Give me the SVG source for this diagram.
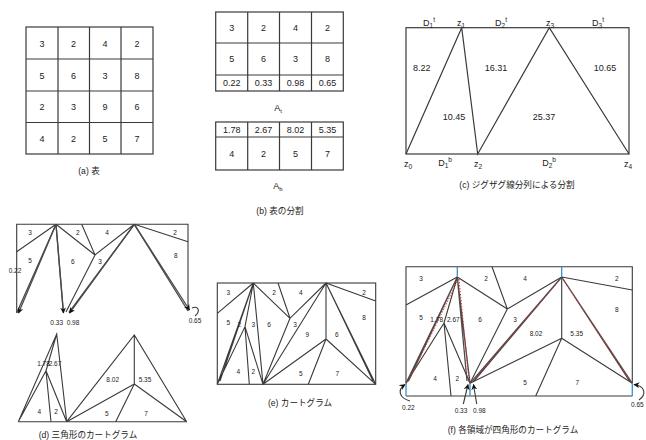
<svg xmlns="http://www.w3.org/2000/svg" width="646" height="440" viewBox="0 0 646 440">
<defs>
<style>
.g{stroke:#3a3a3a;stroke-width:1.1;fill:none}
.tb{stroke:#3a3a3a;stroke-width:1.2;fill:none}
.zz{stroke:#4a4a4a;stroke-width:1.3;fill:none}
.rd{stroke:#e03030;stroke-width:1;stroke-dasharray:1.5 1.5;fill:none}
.bl{stroke:#3a8fd0;stroke-width:1.3;fill:none}
text{font-family:"Liberation Sans","Noto Sans CJK JP",sans-serif;fill:#222;text-anchor:middle}
.n9{font-size:9px}
.n6{font-size:6.5px}
.cap{font-size:8.6px}
</style>
<marker id="ah" viewBox="0 0 10 10" refX="9" refY="5" markerWidth="6" markerHeight="6" markerUnits="userSpaceOnUse" orient="auto"><path d="M0,0 L10,5 L0,10 L3,5 z" fill="#111"/></marker>
</defs>

<!-- (a) table -->
<g id="table-a">
<rect class="tb" x="26" y="27" width="127" height="127"/>
<path class="tb" d="M58 27V154M89.5 27V154M121 27V154M26 59H153M26 91H153M26 122.5H153"/>
<g class="n9">
<text x="42" y="46.5">3</text><text x="73.5" y="46.5">2</text><text x="105" y="46.5">4</text><text x="137" y="46.5">2</text>
<text x="42" y="78.5">5</text><text x="73.5" y="78.5">6</text><text x="105" y="78.5">3</text><text x="137" y="78.5">8</text>
<text x="42" y="110">2</text><text x="73.5" y="110">3</text><text x="105" y="110">9</text><text x="137" y="110">6</text>
<text x="42" y="141.5">4</text><text x="73.5" y="141.5">2</text><text x="105" y="141.5">5</text><text x="137" y="141.5">7</text>
</g>
<text class="cap" x="89" y="174">(a) 表</text>
</g>

<!-- (b) split tables -->
<g id="table-at">
<rect class="tb" x="215.7" y="12" width="127.6" height="79"/>
<path class="tb" d="M247.7 12V91M279.5 12V91M311.5 12V91M215.7 43H343.3M215.7 75H343.3"/>
<g class="n9">
<text x="231.7" y="30.5">3</text><text x="263.6" y="30.5">2</text><text x="295.5" y="30.5">4</text><text x="327.4" y="30.5">2</text>
<text x="231.7" y="62">5</text><text x="263.6" y="62">6</text><text x="295.5" y="62">3</text><text x="327.4" y="62">8</text>
<text x="231.7" y="86">0.22</text><text x="263.6" y="86">0.33</text><text x="295.5" y="86">0.98</text><text x="327.4" y="86">0.65</text>
</g>
<text class="n9" x="278" y="111">A<tspan font-size="6" dy="2">t</tspan></text>
</g>
<g id="table-ab">
<rect class="tb" x="215.7" y="122" width="127.6" height="48"/>
<path class="tb" d="M247.7 122V170M279.5 122V170M311.5 122V170M215.7 137H343.3"/>
<g class="n9">
<text x="231.7" y="132.5">1.78</text><text x="263.6" y="132.5">2.67</text><text x="295.5" y="132.5">8.02</text><text x="327.4" y="132.5">5.35</text>
<text x="231.7" y="156.5">4</text><text x="263.6" y="156.5">2</text><text x="295.5" y="156.5">5</text><text x="327.4" y="156.5">7</text>
</g>
<text class="n9" x="278" y="189">A<tspan font-size="6" dy="2">b</tspan></text>
<text class="cap" x="280" y="214">(b) 表の分割</text>
</g>

<!-- (c) zigzag split -->
<g id="zigzag-c">
<rect class="tb" x="406" y="27.7" width="223" height="126.3"/>
<path class="tb" d="M406 154L461.7 27.7L477.7 154L549.3 27.7L629 154"/>
<g class="n9">
<text x="429" y="26">D<tspan font-size="6.5" dy="2">1</tspan><tspan font-size="6.5" dy="-6">t</tspan></text>
<text x="461" y="26">z<tspan font-size="6.5" dy="2">1</tspan></text>
<text x="501" y="26">D<tspan font-size="6.5" dy="2">2</tspan><tspan font-size="6.5" dy="-6">t</tspan></text>
<text x="550" y="26">z<tspan font-size="6.5" dy="2">3</tspan></text>
<text x="598" y="26">D<tspan font-size="6.5" dy="2">3</tspan><tspan font-size="6.5" dy="-6">t</tspan></text>
<text x="421.7" y="71">8.22</text>
<text x="496" y="71">16.31</text>
<text x="605" y="71">10.65</text>
<text x="454" y="120">10.45</text>
<text x="544" y="120">25.37</text>
<text x="408" y="167">z<tspan font-size="6.5" dy="2">0</tspan></text>
<text x="445" y="166">D<tspan font-size="6.5" dy="2">1</tspan><tspan font-size="6.5" dy="-6">b</tspan></text>
<text x="478" y="167">z<tspan font-size="6.5" dy="2">2</tspan></text>
<text x="549" y="166">D<tspan font-size="6.5" dy="2">2</tspan><tspan font-size="6.5" dy="-6">b</tspan></text>
<text x="628" y="167">z<tspan font-size="6.5" dy="2">4</tspan></text>
</g>
<text class="cap" x="517" y="188">(c) ジグザグ線分列による分割</text>
</g>

<!-- (d) triangle cartogram: top -->
<g id="cartogram-d-top">
<path class="g" d="M16.7 313V224.3H188V311"/>
<path class="g" d="M56 224.3L16.7 251.7M56 224.3L95 255M81.7 224.3L95 255L134.3 224.3M95 255L66 312M134.3 224.3L188 241.7"/>
<path class="zz" d="M56 224.3L16.7 313M56 224.3L63.3 312.5M134.3 224.3L69 312.5M134.3 224.3L188 311"/>
<line class="zz" x1="56" y1="224.3" x2="18.5" y2="313" marker-end="url(#ah)"/>
<line class="zz" x1="56" y1="224.3" x2="63.5" y2="313" marker-end="url(#ah)"/>
<line class="zz" x1="134.3" y1="224.3" x2="69.5" y2="313" marker-end="url(#ah)"/>
<line class="zz" x1="134.3" y1="224.3" x2="189.5" y2="310" marker-end="url(#ah)"/>
<path class="g" d="M195 316C201 311 198 305 192 308"/>
<g class="n6">
<text x="30" y="235">3</text><text x="77.7" y="235">2</text><text x="107" y="235">4</text><text x="175" y="235">2</text>
<text x="30" y="263">5</text><text x="72.7" y="264">6</text><text x="100" y="264">3</text><text x="175.7" y="258">8</text>
<text x="15" y="273">0.22</text>
<text x="56.7" y="325">0.33</text><text x="73" y="325">0.98</text><text x="195" y="323">0.65</text>
</g>
</g>

<!-- (d) triangle cartogram: bottom -->
<g id="cartogram-d-bottom">
<path class="g" d="M18.3 421.7H186.7"/>
<path class="g" d="M18.3 421.7L56.7 334L66.7 421.7M18.3 421.7L46 370.7L56.7 334M46 370.7L51 421.7M46 370.7L66.7 421.7"/>
<path class="g" d="M66.7 421.7L134.3 335L186.7 421.7M134.3 335V384M134.3 384L66.7 421.7M134.3 384L115.7 421.7M134.3 384L186.7 421.7"/>
<g class="n6">
<text x="43.5" y="366">1.78</text><text x="55" y="366">2.67</text>
<text x="39.3" y="414">4</text><text x="56" y="414">2</text>
<text x="112.7" y="382">8.02</text><text x="145" y="382">5.35</text>
<text x="106.7" y="416">5</text><text x="146" y="416">7</text>
</g>
<text class="cap" x="88" y="438">(d) 三角形のカートグラム</text>
</g>

<!-- (e) cartogram -->
<g id="cartogram-e">
<rect class="g" x="217.3" y="283" width="158.4" height="101.3"/>
<path class="g" d="M253.3 283L217.3 313.3M253.3 283L217.3 384.3M253.3 283L220 381M217.3 384.3L245 326.7L253.3 283M245 326.7L249.3 384.3M245 326.7L263 384.3M253.3 283L263 384.3M253.3 283L290 318.3M278 283L290 318.3L326 283M290 318.3L263 384.3M326 283L263 384.3M326 283L375.7 301M326 283V339M326 283L375.7 384.3M326 283L373 381M326 339L263 384.3M326 339L308.3 384.3M326 339L375.7 384.3"/>
<g class="n6">
<text x="228.3" y="294.5">3</text><text x="274" y="294.5">2</text><text x="300.7" y="294.5">4</text><text x="364" y="294.5">2</text>
<text x="228.3" y="325">5</text><text x="239.3" y="327">2</text><text x="253.3" y="327">3</text><text x="269" y="327">6</text><text x="295" y="327">3</text><text x="364" y="319.5">8</text>
<text x="307.3" y="337">9</text><text x="336.7" y="337">6</text>
<text x="238.3" y="374">4</text><text x="253.3" y="374">2</text><text x="300.7" y="375.5">5</text><text x="337.3" y="375.5">7</text>
</g>
<text class="cap" x="300" y="406">(e) カートグラム</text>
</g>

<!-- (f) quadrilateral cartogram -->
<g id="cartogram-f">
<path class="g" d="M406 383.3V266.7H632.3V383.3M406 396H632.3"/>
<path class="g" d="M457.3 277L406 305M457.3 277L507.3 309M492 266.7L507.3 309L561.7 277M507.3 309L470 383.3M561.7 277L632.3 290M561.7 277V338.3M561.7 338.3L470 383.3M561.7 338.3L535.7 396M561.7 338.3L632.3 383.3M457.3 277L444 323M444 323L451 396M444 323L470 383.3M444 323L406 383.3"/>
<path class="zz" d="M457.3 277L406 383.3M457.3 277L408.5 381M457.3 277L470 383.3M457.3 277L467 381M561.7 277L470 383.3M561.7 277L474 381M561.7 277L632.3 383.3M561.7 277L629.5 381"/>
<path class="rd" d="M458.5 279L408 382M459 279L469 382M559.5 280L472 382M563.5 280L631 382"/>
<path class="bl" d="M457.3 266.7V277M561.7 266.7V277M406 383.3V396M470 383.3V396M632.3 383.3V396"/>
<path class="g" d="M410 401C399 398 397 390 405 384.5" marker-end="url(#ah)"/>
<line class="g" x1="463.3" y1="404" x2="468" y2="384.5" marker-end="url(#ah)"/>
<line class="g" x1="476.7" y1="404" x2="473.5" y2="384.5" marker-end="url(#ah)"/>
<path class="g" d="M639 400C647 394 645 386 634 384.5" marker-end="url(#ah)"/>
<g class="n6">
<text x="421" y="280.5">3</text><text x="486" y="280.5">2</text><text x="525" y="280.5">4</text><text x="616.7" y="280.5">2</text>
<text x="421" y="319.5">5</text><text x="436.7" y="322">1.78</text><text x="453.3" y="322">2.67</text><text x="480" y="322">6</text><text x="515" y="322">3</text><text x="616.7" y="312">8</text>
<text x="536" y="335.5">8.02</text><text x="576.7" y="335.5">5.35</text>
<text x="435" y="380.5">4</text><text x="457.3" y="380.5">2</text><text x="525" y="385">5</text><text x="577.3" y="385">7</text>
<text x="408.3" y="410">0.22</text><text x="461" y="413">0.33</text><text x="479.3" y="413">0.98</text>
<text x="631" y="407" style="text-anchor:start">0.65</text>
</g>
<text class="cap" x="513" y="433">(f) 各領域が四角形のカートグラム</text>
</g>
</svg>
